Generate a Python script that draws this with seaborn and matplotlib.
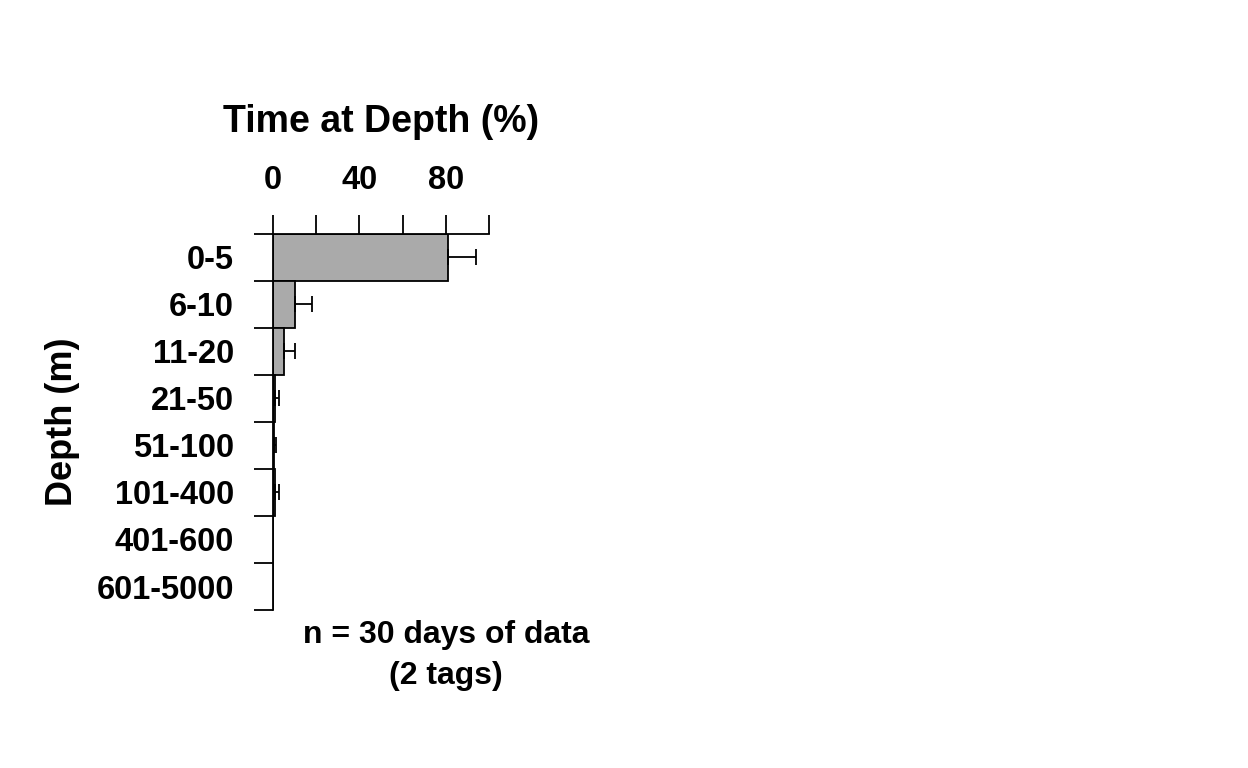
import matplotlib
matplotlib.use('Agg')
import matplotlib.pyplot as plt
import numpy as np
import pandas as pd
import seaborn as sns

# Time-at-depth data
depth_bins = ['0-5', '6-10', '11-20', '21-50', '51-100', '101-400', '401-600', '601-5000']
time_pct = [81.0, 10.3, 5.0, 1.0, 0.6, 0.9, 0.0, 0.0]
time_err = [13.0, 8.0, 5.5, 1.9, 1.1, 1.9, 0.0, 0.0]
x_ticks = [0, 20, 40, 60, 80, 100]
x_ticklabels = ['0', '', '40', '', '80', '']
note_text = 'n = 30 days of data\n(2 tags)'

sns.set_style('ticks')
plt.rcParams['font.family'] = ['Liberation Sans', 'DejaVu Sans']
plt.rcParams['font.weight'] = 'bold'
plt.rcParams['text.color'] = 'black'
plt.rcParams['axes.labelcolor'] = 'black'
plt.rcParams['axes.edgecolor'] = 'black'
plt.rcParams['xtick.color'] = 'black'
plt.rcParams['ytick.color'] = 'black'

df = pd.DataFrame({'depth': depth_bins, 'pct': time_pct, 'err': time_err})

fig = plt.figure(figsize=(12.48, 7.68), dpi=100)
ax = fig.add_axes([0.2185, 0.2057, 0.1735, 0.4900])

lw = 1.3
sns.barplot(data=df, x='pct', y='depth', orient='h', color='#aaaaaa',
            edgecolor='black', linewidth=lw, width=1.0, saturation=1,
            errorbar=None, ax=ax)

# one-sided error bars (to the right only)
ypos = np.arange(len(depth_bins))
mask = df['err'] > 0
ax.errorbar(df['pct'][mask], ypos[mask],
            xerr=[np.zeros(mask.sum()), df['err'][mask]],
            fmt='none', ecolor='black', elinewidth=lw, capsize=6, capthick=lw)

ax.set_xlim(0, 100)
ax.set_ylim(len(depth_bins) - 0.5, -0.5)

# x axis on top
ax.xaxis.set_ticks_position('top')
ax.xaxis.set_label_position('top')
ax.set_xticks(x_ticks)
ax.set_xticklabels(x_ticklabels)
ax.tick_params(axis='x', direction='out', length=14, width=lw, pad=13, labelsize=23.5)

# y: labels at centres, tick marks at the bin boundaries
ax.set_yticks(ypos)
ax.set_yticklabels(depth_bins)
ax.set_yticks(np.arange(len(depth_bins) + 1) - 0.5, minor=True)
ax.tick_params(axis='y', which='major', length=0, pad=28, labelsize=23.5)
ax.tick_params(axis='y', which='minor', direction='out', length=14, width=lw)

for lab in ax.get_xticklabels() + ax.get_yticklabels():
    lab.set_fontweight('bold')

ax.set_xlabel('Time at Depth (%)', fontsize=27, fontweight='bold', labelpad=24)
ax.set_ylabel('Depth (m)', fontsize=26, fontweight='bold', labelpad=12)

for side in ['right', 'bottom']:
    ax.spines[side].set_visible(False)
for side in ['top', 'left']:
    ax.spines[side].set_linewidth(lw)

fig.text(446 / 1248, 1 - 655.5 / 768, note_text, ha='center', va='center',
         fontsize=23, fontweight='bold', linespacing=1.48)

fig.savefig('out.png', dpi=100)
